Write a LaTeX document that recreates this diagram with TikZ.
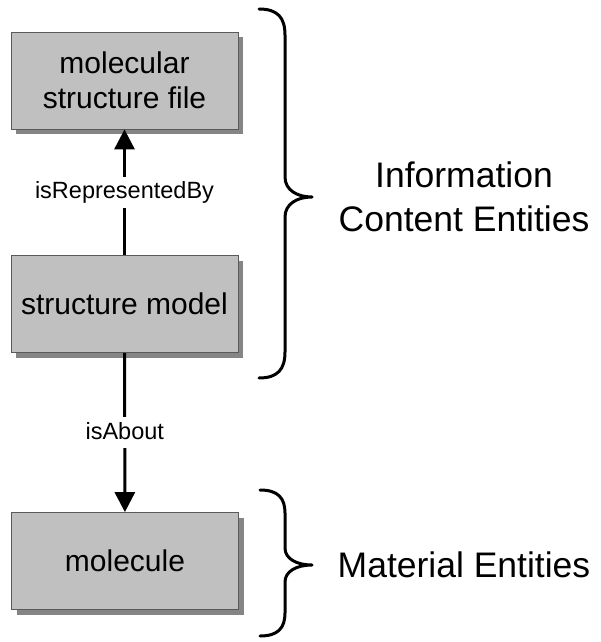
\documentclass[tikz,border=0pt]{standalone}
\usepackage{fontspec}
\setmainfont{Liberation Sans}
\usetikzlibrary{arrows.meta,shadows}
\definecolor{boxfill}{HTML}{C0C0C0}
\definecolor{boxline}{HTML}{5A5A5A}
\definecolor{shadowgray}{HTML}{858585}
\begin{document}
\begin{tikzpicture}[x=1pt,y=1pt,
  entity/.style={draw=boxline, line width=0.8pt, fill=boxfill,
    minimum width=227pt, minimum height=97pt, inner sep=0pt, align=center,
    font=\fontsize{30}{35}\selectfont,
    drop shadow={shadow xshift=5pt, shadow yshift=-5pt, fill=shadowgray, opacity=1, draw=none}},
  rel/.style={line width=3pt, -{Triangle[length=20pt,width=20pt]}},
  rellabel/.style={fill=white, inner xsep=2pt, inner ysep=4pt, text height=18pt, text depth=5pt,
    font=\fontsize{23.5}{28}\selectfont},
  brace/.style={line width=3pt, line cap=round, line join=round},
  group/.style={align=center, font=\fontsize{35.5}{44}\selectfont, inner sep=0pt}]
\useasboundingbox (0,0) rectangle (600,-642);

\node[entity] (file) at (124.5,-80.5) {molecular\\structure file};
\node[entity] (model) at (124.5,-304) {structure model};
\node[entity] (mol) at (125,-561) {molecule};

\draw[rel] (model) -- node[rellabel] (l1) {isRepresentedBy} (file);
\draw[rel] (model) -- node[rellabel] (l2) {isAbout} (mol);

% top brace
\draw[brace] (259,-9) .. controls (278,-9) and (285,-18) .. (285,-35) -- (285,-177)
  .. controls (285,-190) and (297,-197) .. (312,-197)
  .. controls (297,-197) and (285,-204) .. (285,-217) -- (285,-352)
  .. controls (285,-369) and (278,-378) .. (259,-378);
% bottom brace
\draw[brace] (260,-490) .. controls (278,-490) and (285,-498) .. (285,-513) -- (285,-548)
  .. controls (285,-559) and (297,-565) .. (312,-565)
  .. controls (297,-565) and (285,-571) .. (285,-582) -- (285,-613)
  .. controls (285,-628) and (278,-636) .. (260,-636);

\node[group] (ice) at (464,-196.5) {Information\\Content Entities};
\node[group, anchor=base] (me) at (464,-577) {Material Entities};
\end{tikzpicture}
\end{document}
